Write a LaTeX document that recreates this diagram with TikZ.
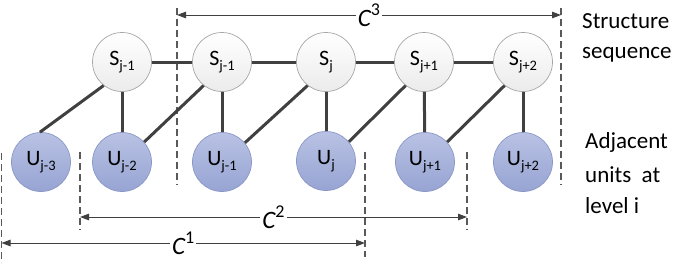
\documentclass[tikz,border=0pt]{standalone}
\usepackage{fontspec}
\setmainfont{Carlito}
\usetikzlibrary{arrows.meta}
\definecolor{edgec}{HTML}{404040}
\definecolor{dimc}{HTML}{404040}
\definecolor{dashc}{HTML}{595959}
\definecolor{ufillt}{HTML}{B9C2E4}
\definecolor{ufillb}{HTML}{97A4D3}
\definecolor{udraw}{HTML}{8A97C6}
\definecolor{sdraw}{HTML}{A6A6A6}
\definecolor{sfillb}{HTML}{EBEBEB}
\newcommand\nsub[1]{\raisebox{-5pt}{\fontsize{14.5}{14.5}\selectfont #1}}
\newcommand\nlab[2]{{\fontsize{22}{22}\selectfont #1\nsub{#2}}}
\newcommand\clab[1]{{\fontsize{25}{25}\selectfont\itshape C}\raisebox{11pt}{\fontsize{18}{18}\selectfont #1}}
\begin{document}
\begin{tikzpicture}[x=1pt,y=-1pt,
  snode/.style={circle,minimum size=59pt,inner sep=0pt,draw=sdraw,line width=0.7pt,top color=white,bottom color=sfillb},
  unode/.style={circle,minimum size=59pt,inner sep=0pt,draw=udraw,line width=0.7pt,top color=ufillt,bottom color=ufillb},
  link/.style={draw=edgec,line width=3pt},
  dashv/.style={draw=dashc,line width=1.2pt,dash pattern=on 7pt off 4pt},
  dimline/.style={draw=dimc,line width=1pt,{Triangle[length=9pt,width=6.5pt]}-{Triangle[length=9pt,width=6.5pt]}},
  clabel/.style={fill=white,inner sep=2pt},
  sidetext/.style={anchor=base west,inner sep=0pt,font=\fontsize{23}{23}\selectfont}]
\path[use as bounding box] (0,0) rectangle (677,263);
% dashed boundary lines
\coordinate (d3Lt) at (177,8);   \coordinate (d3Lb) at (177,185);
\coordinate (d3Rt) at (561,8);   \coordinate (d3Rb) at (561,185);
\coordinate (d2Lt) at (80,152);  \coordinate (d2Lb) at (80,230);
\coordinate (d2Rt) at (467,152); \coordinate (d2Rb) at (467,230);
\coordinate (d1Lt) at (1.5,153); \coordinate (d1Lb) at (1.5,263);
\coordinate (d1Rt) at (365,152); \coordinate (d1Rb) at (365,257);
\draw[dashv] (d3Lt) -- (d3Lb);
\draw[dashv] (d3Rt) -- (d3Rb);
\draw[dashv] (d2Lt) -- (d2Lb);
\draw[dashv] (d2Rt) -- (d2Rb);
\draw[dashv] (d1Lt) -- (d1Lb);
\draw[dashv] (d1Rt) -- (d1Rb);
% nodes
\node[snode] (s1) at (122,62) {\nlab{S}{j-1}};
\node[snode] (s2) at (222,62) {\nlab{S}{j-1}};
\node[snode] (s3) at (326,62) {\nlab{S}{j}};
\node[snode] (s4) at (424,62) {\nlab{S}{j+1}};
\node[snode] (s5) at (523,62) {\nlab{S}{j+2}};
\node[unode] (u0) at (41,162) {\nlab{U}{j-3}};
\node[unode] (u1) at (122,162) {\nlab{U}{j-2}};
\node[unode] (u2) at (222,162) {\nlab{U}{j-1}};
\node[unode] (u3) at (326,161) {\nlab{U}{j}};
\node[unode] (u4) at (425,162) {\nlab{U}{j+1}};
\node[unode] (u5) at (523,162) {\nlab{U}{j+2}};
% links
\draw[link] (s1) -- (s2);
\draw[link] (s2) -- (s3);
\draw[link] (s3) -- (s4);
\draw[link] (s4) -- (s5);
\draw[link] (s1.232) -- (u0.92);
\draw[link] (s1) -- (u1);
\draw[link] (s2.232) -- (u1.42);
\draw[link] (s2) -- (u2);
\draw[link] (s3.232) -- (u2.40);
\draw[link] (s3) -- (u3);
\draw[link] (s4.232) -- (u3.40);
\draw[link] (s4) -- (u4);
\draw[link] (s5.232) -- (u4.42);
\draw[link] (s5) -- (u5);
% dimension arrows
\coordinate (a3L) at (177,15);  \coordinate (a3R) at (561,15);
\coordinate (a2L) at (80,217);  \coordinate (a2R) at (467,217);
\coordinate (a1L) at (1.5,243); \coordinate (a1R) at (365,243);
\draw[dimline] (a3L) -- node[clabel] (c3) {\clab{3}} (a3R);
\draw[dimline] (a2L) -- node[clabel] (c2) {\clab{2}} (a2R);
\draw[dimline] (a1L) -- node[clabel] (c1) {\clab{1}} (a1R);
% side texts
\node[sidetext] (t1) at (582,28) {Structure};
\node[sidetext] (t2) at (582,58) {sequence};
\node[sidetext] (t3) at (585,148) {Adjacent};
\node[sidetext] (t4) at (585,182) {units\ \ at};
\node[sidetext] (t5) at (585,213) {level i};
\end{tikzpicture}
\end{document}
